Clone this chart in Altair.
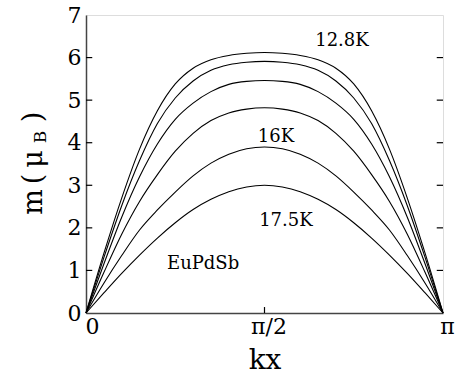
import math
import altair as alt
import pandas as pd

PI = math.pi
FONT = "DejaVu Serif"

# kx sample positions, as fractions of pi
kx_frac = [0.00, 0.05, 0.10, 0.15, 0.20, 0.25, 0.30, 0.35, 0.40, 0.45, 0.50,
           0.55, 0.60, 0.65, 0.70, 0.75, 0.80, 0.85, 0.90, 0.95, 1.00]

# magnetisation profiles m(kx) in mu_B, from lowest to highest temperature
m_c1 = [0, 1.40, 2.70, 3.85, 4.75, 5.38, 5.75, 5.95, 6.05, 6.10, 6.12,
        6.10, 6.05, 5.95, 5.75, 5.38, 4.75, 3.85, 2.70, 1.40, 0]
m_c2 = [0, 1.30, 2.52, 3.58, 4.45, 5.05, 5.45, 5.70, 5.83, 5.89, 5.91,
        5.89, 5.83, 5.70, 5.45, 5.05, 4.45, 3.58, 2.52, 1.30, 0]
m_c3 = [0, 1.15, 2.25, 3.20, 3.97, 4.55, 4.93, 5.20, 5.37, 5.44, 5.46,
        5.44, 5.37, 5.20, 4.93, 4.55, 3.97, 3.20, 2.25, 1.15, 0]
m_c4 = [0, 0.95, 1.85, 2.62, 3.25, 3.80, 4.22, 4.52, 4.70, 4.79, 4.82,
        4.79, 4.70, 4.52, 4.22, 3.80, 3.25, 2.62, 1.85, 0.95, 0]
m_c5 = [0, 0.70, 1.35, 1.95, 2.42, 2.84, 3.22, 3.52, 3.73, 3.86, 3.90,
        3.86, 3.73, 3.52, 3.22, 2.84, 2.42, 1.95, 1.35, 0.70, 0]
m_c6 = [0, 0.47, 0.93, 1.36, 1.76, 2.12, 2.43, 2.67, 2.85, 2.96, 3.00,
        2.96, 2.85, 2.67, 2.43, 2.12, 1.76, 1.36, 0.93, 0.47, 0]
curves = {"c1": m_c1, "c2": m_c2, "c3": m_c3, "c4": m_c4, "c5": m_c5, "c6": m_c6}

# curve annotations
note_text = ["12.8K", "16K", "17.5K", "EuPdSb"]
note_kx = [0.717, 0.532, 0.560, 0.328]
note_m = [6.39, 4.13, 2.16, 1.16]

y_ticks = [0, 1, 2, 3, 4, 5, 6, 7]
x_ticks = [0, PI / 2, PI]

rows = []
for name, vals in curves.items():
    for f, m in zip(kx_frac, vals):
        rows.append({"curve": name, "kx": f * PI, "m": m})
df = pd.DataFrame(rows)

notes = pd.DataFrame({"text": note_text,
                      "kx": [f * PI for f in note_kx],
                      "m": note_m})

xs = alt.Scale(domain=[0, PI], nice=False, zero=False)
ys = alt.Scale(domain=[0, 7], nice=False)

x_axis = alt.Axis(
    values=x_ticks,
    labelExpr="datum.value < 0.1 ? '0' : (datum.value < 2 ? 'π/2' : 'π')",
    labelFont=FONT, labelFontSize=22, labelColor="black",
    labelPadding=3, labelFlush=False,
    labelOffset={"condition": {"test": "datum.value < 0.1", "value": 6}, "value": 4},
    ticks=False, grid=False,
    domainColor="#444", domainWidth=1.5,
    title="kx", titleFont=FONT, titleFontSize=28, titleFontWeight="normal",
    titleColor="black", titlePadding=9,
)
y_axis = alt.Axis(
    values=y_ticks, format="d",
    labelFont=FONT, labelFontSize=22, labelColor="black",
    labelPadding=5, ticks=False, grid=False,
    domainColor="#444", domainWidth=1.5, title=None,
)

lines = alt.Chart(df).mark_line(
    color="black", strokeWidth=1.1, interpolate="monotone"
).encode(
    x=alt.X("kx:Q", scale=xs, axis=x_axis),
    y=alt.Y("m:Q", scale=ys, axis=y_axis),
    detail="curve:N",
)

# inward tick marks on left, right and bottom edges
tick_dx = 0.055
tick_dy = 0.14
inner_y = [1, 2, 3, 4, 5, 6]
left_ticks = alt.Chart(pd.DataFrame({"m": inner_y, "x0": 0.0, "x1": tick_dx})).mark_rule(
    color="black", strokeWidth=1.2
).encode(x=alt.X("x0:Q", scale=xs), x2="x1:Q", y=alt.Y("m:Q", scale=ys))
right_ticks = alt.Chart(pd.DataFrame({"m": inner_y, "x0": PI - tick_dx, "x1": PI})).mark_rule(
    color="black", strokeWidth=1.2
).encode(x=alt.X("x0:Q", scale=xs), x2="x1:Q", y=alt.Y("m:Q", scale=ys))
bottom_ticks = alt.Chart(pd.DataFrame({"kx": [PI / 2], "y0": 0.0, "y1": tick_dy})).mark_rule(
    color="black", strokeWidth=1.2
).encode(x=alt.X("kx:Q", scale=xs), y=alt.Y("y0:Q", scale=ys), y2="y1:Q")

labels = alt.Chart(notes).mark_text(
    font=FONT, fontSize=18, color="black", align="center", baseline="middle"
).encode(x=alt.X("kx:Q", scale=xs), y=alt.Y("m:Q", scale=ys), text="text:N")

# vertical axis title: m (mu_B) with a subscript B
def ytitle(txt, size, xpos, ypos):
    return alt.Chart(pd.DataFrame({"t": [txt]})).mark_text(
        font=FONT, fontSize=size, color="black", angle=270,
        align="center", baseline="alphabetic"
    ).encode(x=alt.value(xpos), y=alt.value(ypos), text="t:N")

title_parts = [
    ytitle("m", 27, -44, 187),
    ytitle("(", 27, -44, 164),
    ytitle("μ", 27, -44, 144),
    ytitle("B", 17, -40, 122),
    ytitle(")", 27, -44, 102),
]

chart = alt.layer(
    lines, left_ticks, right_ticks, bottom_ticks, labels, *title_parts
).properties(
    width=357, height=298,
    padding={"left": 86, "top": 15, "right": 14, "bottom": 68},
    autosize=alt.AutoSizeParams(type="none"),
).configure_view(
    stroke="black", strokeWidth=1
).configure(background="white")

chart.save("out.html", embed_options={"renderer": "svg", "actions": False})
